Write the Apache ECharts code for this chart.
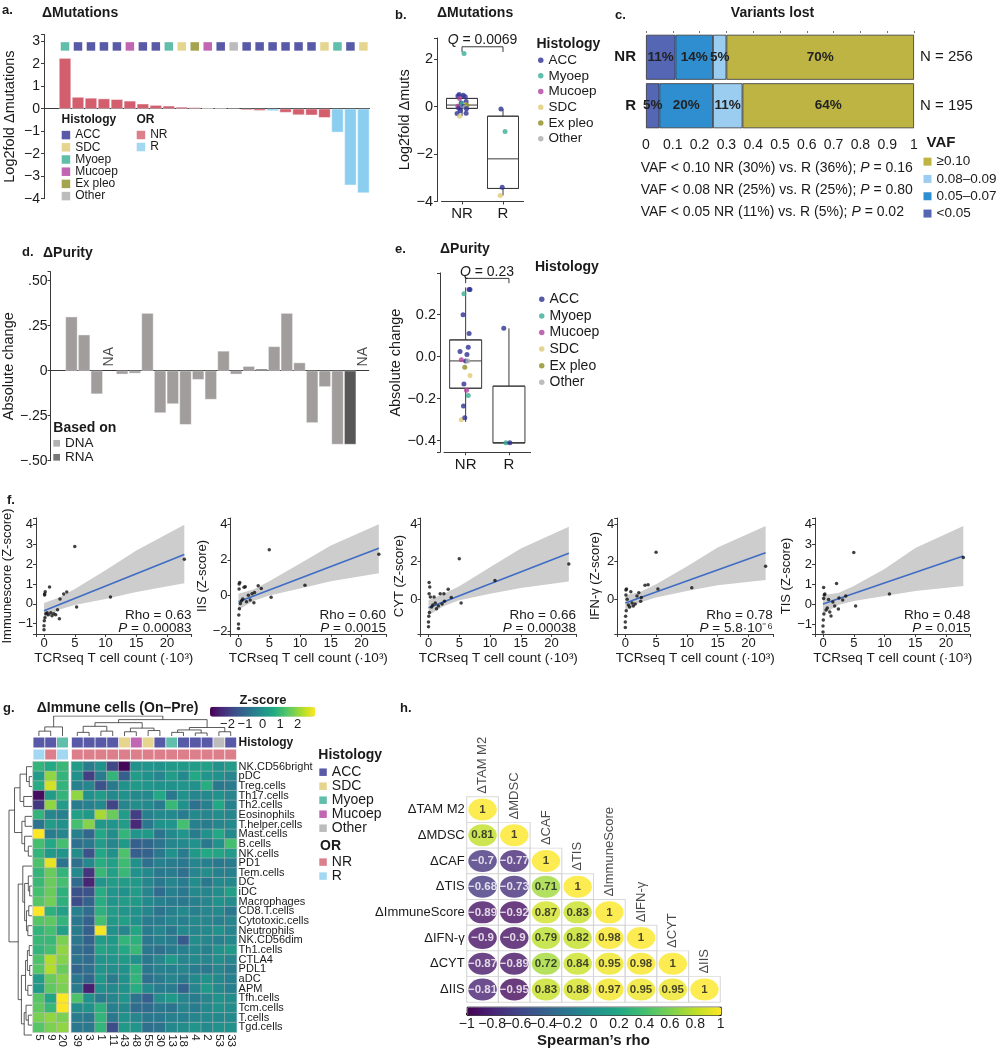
<!DOCTYPE html>
<html>
<head>
<meta charset="utf-8">
<script src="https://cdn.jsdelivr.net/npm/echarts@6/dist/echarts.min.js"></script>
<style>
html,body{margin:0;padding:0;background:#ffffff;}
#chart{width:996px;height:1050px;}
</style>
</head>
<body>
<div id="chart"></div>
<script>
// ================= DATA =================
// Panels a, b, d, e : one entry per patient (same order in all four panels)
const sampleHistology = ['Myoep','ACC','ACC','ACC','ACC','Mucoep','ACC','ACC','Myoep','SDC','Ex pleo','Mucoep','ACC','Other','ACC','ACC','ACC','ACC','ACC','ACC','SDC','Myoep','ACC','SDC'];
const sampleResponse  = ['NR','NR','NR','NR','NR','NR','NR','NR','NR','NR','NR','NR','NR','NR','NR','NR','R','NR','NR','NR','NR','R','R','R'];
const mutLog2         = [2.25,0.52,0.48,0.45,0.42,0.35,0.22,0.16,0.13,0.08,0.06,0.02,0.01,-0.02,-0.06,-0.09,-0.10,-0.17,-0.28,-0.29,-0.40,-1.05,-3.40,-3.75];
const jitterB         = [0.05,-0.07,0.03,-0.10,0.08,-0.06,0.10,-0.02,0.00,0.09,0.12,-0.10,0.04,0.07,-0.08,0.11,-0.05,-0.04,0.10,-0.12,-0.06,0.05,-0.02,-0.07];
const purityChange    = [0.30,0.20,-0.13,null,-0.02,-0.015,0.32,-0.235,-0.185,-0.30,-0.05,-0.16,0.11,-0.02,0.025,0.01,0.135,0.32,0.045,-0.29,-0.09,-0.41,-0.41,null];
const purityBasis     = ['DNA','DNA','DNA','DNA','DNA','DNA','DNA','DNA','DNA','DNA','DNA','DNA','DNA','DNA','DNA','RNA','DNA','DNA','DNA','DNA','DNA','DNA','RNA','DNA'];
const jitterE         = [-0.04,-0.06,-0.04,0,0.00,-0.10,0.08,-0.05,0.06,-0.10,-0.02,0.02,0.08,0.05,-0.13,0.03,-0.12,0.10,0.06,-0.02,0.10,-0.07,0.02,0];
const responseGroups  = ['NR','R'];
const boxB_NR = [-0.40,-0.07,0.07,0.35,0.52];   // min, Q1, median, Q3, max
const boxB_R  = [-3.75,-3.45,-2.20,-0.40,-0.10];
const boxE_NR = [-0.31,-0.15,-0.02,0.08,0.33];
const boxE_R  = [-0.41,-0.41,-0.41,-0.14,0.135];
const qValueB = '0.0069';
const qValueE = '0.23';

// Panel c
const vafBins   = ['<0.05','0.05\u20130.07','0.08\u20130.09','\u22650.10'];
const vafNR     = [11,14,5,70];
const vafR      = [5,20,11,64];
const vafTotals = ['N = 256','N = 195'];
const vafTests  = [['0.10','30%','36%','0.16'],['0.08','25%','25%','0.80'],['0.05','11%','5%','0.02']];

// Panel f
const tcrCount = [0.0,0.0,0.05,0.1,0.1,0.15,0.2,0.3,0.5,0.7,0.9,1.1,1.3,1.6,1.9,2.2,2.5,2.6,3.2,3.7,5.0,5.3,10.8,22.8];
const immuneZ  = [-1.3,-1.1,-0.85,0.45,0.5,-0.7,0.62,-0.5,-0.45,-0.55,0.85,-0.45,-0.6,-0.5,-0.55,-0.3,-0.75,0.25,0.5,0.6,2.9,-0.15,0.35,2.25];
const iisZ     = [-1.85,-1.6,-1.1,0.64,0.36,-0.74,0.73,-0.45,-0.3,-0.2,0.47,0.49,-0.35,0.02,-0.25,0.1,-0.4,0.17,0.55,0.4,2.57,-0.1,0.58,2.31];
const cytZ     = [-1.45,-1.2,-0.9,0.9,0.3,-0.7,0.65,0.12,-0.4,-0.3,0.12,-0.2,-0.5,-0.35,0.3,-0.25,0.3,-0.1,0.54,0.1,2.15,-0.2,1.0,1.88];
const ifngZ    = [-1.5,-1.2,-0.9,0.5,0.23,-0.6,0.55,0.0,-0.3,-0.4,0.4,-0.2,-0.35,-0.25,0.18,0.35,-0.1,0.1,0.75,0.78,2.5,0.55,0.62,1.76];
const tisZ     = [-1.4,-1.1,-0.8,0.83,0.28,-0.5,0.45,0.5,-0.3,-0.2,0.23,-0.4,-0.6,0.1,-0.1,1.03,-0.25,0.3,0.2,0.4,2.58,-0.1,0.5,2.33];
const fitEndX  = [0, 22.8];
const immuneFit = [-0.35,2.5],  iisFit = [-0.35,2.65],  cytFit = [-0.45,2.45],  ifngFit = [-0.2,2.48],  tisFit = [0.0,2.4];
const bandX    = [0,2.5,5,10,15,22.8];
const immuneLo = [-0.75,-0.28,-0.05,0.25,0.6,1.05],  immuneHi = [0.05,0.33,0.75,1.7,2.7,4.0];
const iisLo    = [-0.8,-0.3,0.0,0.4,0.8,1.25],      iisHi    = [0.1,0.35,0.8,1.8,2.8,4.0];
const cytLo    = [-0.85,-0.35,-0.05,0.3,0.6,0.95],  cytHi    = [-0.05,0.3,0.7,1.7,2.7,3.85];
const ifngLo   = [-0.6,-0.15,0.1,0.45,0.75,1.03],   ifngHi   = [0.2,0.4,0.8,1.75,2.75,3.9];
const tisLo    = [-0.5,-0.05,0.15,0.4,0.65,0.9],    tisHi    = [0.45,0.55,0.9,1.75,2.8,3.9];
const fNames = ['Immunescore (Z-score)','IIS (Z-score)','CYT (Z-score)','IFN-\u03b3 (Z-score)','TIS (Z-score)'];
const fRho   = ['0.63','0.60','0.66','0.78','0.48'];
const fP     = ['0.00083','0.0015','0.00038','5.8\u00b710\u207b\u2076','0.015'];

// Panel g
const heatRows = ['NK.CD56bright','pDC','Treg.cells','Th17.cells','Th2.cells','Eosinophils','T.helper.cells','Mast.cells','B.cells','NK.cells','PD1','Tem.cells','DC','iDC','Macrophages','CD8.T.cells','Cytotoxic.cells','Neutrophils','NK.CD56dim','Th1.cells','CTLA4','PDL1','aDC','APM','Tfh.cells','Tcm.cells','T.cells','Tgd.cells'];
const heatCols = ['5','9','20','39','3','1','11','43','48','55','30','13','18','4','2','53','33'];
const colHistology = ['ACC','ACC','Myoep','ACC','ACC','ACC','ACC','SDC','Mucoep','SDC','ACC','Myoep','ACC','ACC','ACC','Other','ACC'];
const colResponse  = ['R','NR','R','NR','NR','NR','NR','NR','NR','NR','NR','NR','NR','NR','NR','NR','NR'];
const heatVals = [
 [0.9,0.6,1.0, 0.3,-0.5,0.0,-1.7,-2.9,0.0,0.1,0.0,0.2,0.2,0.3,0.4,0.0,0.3],
 [0.3,2.0,0.9, 0.0,-1.9,-0.5,0.9,-1.2,0.3,0.0,-0.3,0.3,-0.2,0.6,0.1,0.0,-0.3],
 [0.7,2.6,0.9, -0.4,-0.3,-1.5,-0.6,0.0,0.2,0.1,0.0,0.0,0.1,0.0,0.7,-0.6,-0.5],
 [-2.8,0.3,0.9, 2.0,0.0,0.3,-0.2,0.0,-0.2,-0.2,0.6,-0.6,0.0,-0.3,-0.2,0.0,-0.3],
 [-2.0,2.0,0.3, -0.5,-0.4,-0.2,-1.8,-0.3,-0.1,-0.2,-0.5,1.0,0.0,-0.8,-0.4,0.6,-0.4],
 [0.9,-0.3,-0.4, 0.4,0.2,2.2,1.6,0.3,-1.9,-0.4,-0.2,-0.2,-0.5,-0.2,-0.3,-0.1,-0.3],
 [-0.7,0.3,0.0, 1.2,1.9,0.2,0.1,0.3,-2.3,-0.6,0.0,0.1,1.2,-0.4,-0.5,-0.3,-0.2],
 [3.0,-0.5,-0.3, -0.4,-1.0,0.6,-0.1,0.9,0.1,0.2,-0.7,-0.2,0.1,-0.5,0.0,0.6,-0.2],
 [1.2,0.6,1.2, -0.8,-0.6,0.3,-0.3,0.2,-1.2,-1.0,-0.7,-0.3,-0.2,0.0,-0.6,0.0,1.2],
 [0.9,0.2,0.1, -0.1,-1.5,0.6,0.0,1.3,-1.2,-1.1,-0.6,0.0,-0.5,0.2,0.6,0.5,0.3],
 [1.3,2.8,-0.7, -0.8,-0.2,0.7,0.4,1.1,0.0,-0.8,-0.4,-0.5,-0.6,-0.3,-0.4,-0.6,-0.5],
 [0.9,1.6,0.9, -0.2,-2.1,1.0,0.4,1.0,0.0,-0.2,-0.6,-0.5,-0.8,-0.3,-0.1,-0.4,-0.4],
 [1.0,1.6,1.2, -0.9,-2.4,0.1,0.3,0.3,0.2,-0.3,-0.6,-0.3,-0.5,-0.1,-0.6,-0.2,-0.2],
 [1.2,1.6,0.8, -1.5,-1.5,0.7,0.1,0.0,0.3,-0.3,-0.9,-0.4,-0.6,-0.2,-0.3,-0.1,0.4],
 [1.4,1.7,0.8, -1.6,-1.1,0.7,0.1,0.3,0.2,-0.2,-0.4,-0.5,-0.6,-0.4,-0.3,0.0,-0.1],
 [3.0,0.8,0.4, -0.4,-0.9,0.8,0.3,0.1,0.0,-0.3,-0.7,-0.4,-0.2,-0.4,-0.3,-0.2,-0.6],
 [1.4,1.5,0.9, -0.6,-1.1,1.2,0.2,0.4,0.0,-0.5,-0.5,-0.3,-0.4,-0.2,-0.3,-0.4,-0.3],
 [0.9,1.2,0.4, -0.5,-1.2,2.9,0.0,-0.3,0.5,-0.5,-0.3,-0.6,-0.2,-0.3,-0.2,0.0,-0.3],
 [1.0,1.0,1.8, -0.6,-1.1,0.3,0.2,0.9,0.8,-0.6,-0.4,-0.5,-1.3,-0.1,-0.3,-0.4,-0.2],
 [0.9,1.2,2.0, -0.8,-1.0,0.5,0.3,0.6,1.0,-0.6,-0.8,-0.5,-0.4,-0.2,-0.4,0.0,0.2],
 [1.3,2.3,1.9, -0.7,-0.9,0.1,0.1,0.2,0.0,-0.6,-0.3,0.2,-0.3,-0.2,-0.3,-0.1,-0.3],
 [1.4,2.3,1.6, -1.0,-0.8,0.1,-0.1,0.0,0.8,-0.6,-0.4,-0.4,-0.3,-0.5,-0.6,-0.3,-0.5],
 [0.3,1.6,1.9, -0.6,-1.0,0.2,-0.5,0.0,0.9,-0.8,-0.5,-0.3,-0.5,-0.2,0.0,-0.2,-0.4],
 [0.2,1.5,1.8, -0.5,-2.5,0.0,-0.2,0.0,0.7,-0.2,-0.5,-0.5,-1.1,-0.3,0.2,-0.2,-0.4],
 [1.4,0.5,3.0, 1.3,0.0,-0.5,-0.3,0.1,-0.7,-1.2,-0.1,0.2,-0.3,-0.5,-0.3,0.0,-0.1],
 [1.5,1.0,3.0, -0.1,0.0,0.8,-0.4,-0.2,-0.9,-0.9,-0.6,-0.7,-0.3,-0.5,-0.2,0.0,-0.1],
 [1.8,2.0,1.8, -0.5,-0.6,0.9,-0.6,0.0,-0.3,-0.6,-0.6,-0.4,-0.4,-0.3,-0.2,-0.2,-0.2],
 [1.4,1.8,2.0, -0.6,-0.6,0.9,-1.6,0.2,0.1,-0.8,-0.7,-0.2,-0.1,0.1,-0.2,0.0,0.0]
];
// dendrograms: [childA, childB, height]; leaves are 0..n-1, merged nodes numbered from n
const colMerges = [[0,1,0.8],[17,2,1.5],[3,4,0.6],[5,6,0.8],[19,20,1.6],[7,8,0.7],[9,10,0.9],[22,23,1.3],[21,24,2.2],[11,12,0.6],[13,14,0.5],[26,27,1.0],[15,16,0.7],[28,29,1.4],[25,30,2.7],[18,31,3.3]];
const rowMerges = [[1,2,0.6],[0,28,1.2],[3,4,1.8],[29,30,2.6],[5,6,1.5],[8,9,0.8],[7,33,1.6],[32,34,2.2],[31,35,3.8],[12,13,0.5],[11,37,0.8],[14,15,0.7],[16,17,0.9],[39,40,1.2],[38,41,1.6],[10,42,2.0],[18,19,0.6],[20,21,0.5],[44,45,1.0],[22,23,0.9],[46,47,1.4],[25,26,0.8],[24,49,1.3],[50,27,1.7],[48,51,2.3],[43,52,3.0],[36,53,5.0]];

// Panel h
const corrVars = ['\u0394TAM M2','\u0394MDSC','\u0394CAF','\u0394TIS','\u0394ImmuneScore','\u0394IFN-\u03b3','\u0394CYT','\u0394IIS'];
const corrRows = [
 [1],
 [0.81,1],
 [-0.7,-0.77,1],
 [-0.68,-0.73,0.71,1],
 [-0.89,-0.92,0.87,0.83,1],
 [-0.9,-0.9,0.79,0.82,0.98,1],
 [-0.87,-0.89,0.72,0.84,0.95,0.98,1],
 [-0.81,-0.95,0.83,0.88,0.97,0.95,0.95,1]
];

// ================= STYLE =================
const FONT = '"Liberation Sans", Arial, Helvetica, sans-serif';
const INK = '#1a1a1a', AXC = '#3a3a3a';
const HIST_COLORS = {'ACC':'#2E3192','SDC':'#DECB72','Myoep':'#38AE95','Mucoep':'#B0409F','Ex pleo':'#8F8D22','Other':'#ABABAB'};
const OR_COLORS = {'NR':'#D35F6E','R':'#8CCEEF'};
const VAF_COLORS = ['#5466B4','#2F8ECF','#9BCDF0','#BDB443'];
const PURITY_COLORS = {'DNA':'#A19D9D','RNA':'#575757'};
const VIRIDIS = ['#440154','#482475','#414487','#355f8d','#2a788e','#21918c','#22a884','#44bf70','#7ad151','#bddf26','#fde725'];
const minus = s => String(s).replace(/-/g,'\u2212');
const isMult = (v, iv) => Math.abs(v/iv - Math.round(v/iv)) < 1e-6;

const grid=[], xAxis=[], yAxis=[], series=[], graphic=[], legend=[], visualMap=[];
const G = o => (grid.push(o), grid.length-1);
const X = o => (xAxis.push(o), xAxis.length-1);
const Y = o => (yAxis.push(o), yAxis.length-1);
const S = o => (series.push(Object.assign({animation:false, silent:true}, o)), series.length-1);
function T(x, y, text, o) {
  const st = Object.assign({text, fill:INK, fontFamily:FONT, fontSize:13, fontWeight:'normal', align:'left', verticalAlign:'middle'}, o||{});
  st.textAlign = st.align; st.textVerticalAlign = st.verticalAlign;
  graphic.push({type:'text', x, y, silent:true, z:100, style:st});
}
const richP = fs => ({i:{fontStyle:'italic', fontSize:fs, fontFamily:FONT, fill:INK, color:INK}});
function axisLine(show){ return {show:show, onZero:false, lineStyle:{color:AXC, width:1}}; }
const tick = {show:true, length:3, lineStyle:{color:AXC}};
const noSplit = {show:false};
function L(o){ legend.push(Object.assign({orient:'vertical', padding:0, itemGap:0, selectedMode:false, icon:'rect', itemStyle:{borderWidth:0}}, o)); }

// ================= PANEL A =================
T(2, 10, 'a.', {fontWeight:'bold', fontSize:13});
T(42, 13, '\u0394Mutations', {fontWeight:'bold', fontSize:14});
const gA = G({left:44, top:34.5, width:325.5, height:164.2});
const xA = X({gridIndex:gA, type:'value', min:-1.62, max:23.47, axisLine:{show:true, onZero:true, lineStyle:{color:AXC}}, axisTick:{show:false}, axisLabel:{show:false}, splitLine:noSplit});
const yA = Y({gridIndex:gA, type:'value', min:-4, max:3.3, interval:1, axisLine:axisLine(true), axisTick:tick,
  axisLabel:{fontSize:14, color:INK, margin:4, formatter:v=>isMult(v,1)?minus(Math.round(v)):''}, splitLine:noSplit,
  name:'Log2fold \u0394mutations', nameLocation:'middle', nameGap:27, nameTextStyle:{fontSize:14.5, color:INK}});
S({type:'bar', xAxisIndex:xA, yAxisIndex:yA, barWidth:12,
  itemStyle:{borderColor:'rgba(255,255,255,0.8)', borderWidth:0.5},
  data: mutLog2.map((v,i)=>({value:[i,v], itemStyle:{color:OR_COLORS[sampleResponse[i]]}}))});
S({type:'scatter', xAxisIndex:xA, yAxisIndex:yA, symbol:'rect', symbolSize:8.5,
  data: sampleHistology.map((h,i)=>({value:[i,2.77], itemStyle:{color:HIST_COLORS[h]}}))});
T(61.5, 119.5, 'Histology', {fontWeight:'bold', fontSize:12});
T(136.5, 119.5, 'OR', {fontWeight:'bold', fontSize:12});
L({left:61.7, top:129, itemWidth:8.5, itemHeight:8.5, textStyle:{fontSize:12, color:INK, fontFamily:FONT, lineHeight:12.2},
  data:['ACC','SDC','Myoep','Mucoep','Ex pleo','Other']});
L({left:136.7, top:129, itemWidth:8.5, itemHeight:8.5, textStyle:{fontSize:12, color:INK, fontFamily:FONT, lineHeight:12},
  data:['NR','R']});

// ================= PANEL B =================
T(395, 15, 'b.', {fontWeight:'bold', fontSize:13});
T(437, 13.3, '\u0394Mutations', {fontWeight:'bold', fontSize:14});
const gB = G({left:441.5, top:38, width:82, height:163.5});
const xBc = X({gridIndex:gB, type:'category', data:responseGroups, axisLine:axisLine(true), axisTick:{show:true, length:3, alignWithLabel:true, lineStyle:{color:AXC}}, axisLabel:{fontSize:15, color:INK, margin:5}});
const xBv = X({gridIndex:gB, type:'value', min:-0.5, max:1.5, show:false, splitLine:noSplit});
const yB = Y({gridIndex:gB, type:'value', min:-4, max:2.9, interval:2, offset:4.5, axisLine:axisLine(true), axisTick:tick,
  axisLabel:{fontSize:14.5, color:INK, margin:4, formatter:v=>isMult(v,2)?minus(Math.round(v)):''}, splitLine:noSplit,
  name:'Log2fold \u0394muts', nameLocation:'middle', nameGap:21, nameTextStyle:{fontSize:14.5, color:INK}});
const boxB = [boxB_NR, boxB_R];
S({type:'boxplot', xAxisIndex:xBc, yAxisIndex:yB, boxWidth:[31,31], itemStyle:{color:'rgba(255,255,255,0)', borderColor:AXC, borderWidth:1},
  data: boxB.map(s=>[s[1],s[1],s[2],s[3],s[3]])});
S({type:'lines', coordinateSystem:'cartesian2d', xAxisIndex:xBv, yAxisIndex:yB, polyline:true, lineStyle:{color:AXC, width:1, opacity:1},
  data: boxB.flatMap((s,k)=>[{coords:[[k,s[3]],[k,s[4]]]},{coords:[[k,s[0]],[k,s[1]]]}])});
S({type:'scatter', xAxisIndex:xBv, yAxisIndex:yB, symbolSize:5, z:5,
  data: mutLog2.map((v,i)=>({value:[responseGroups.indexOf(sampleResponse[i])+jitterB[i], v], itemStyle:{color:HIST_COLORS[sampleHistology[i]]}}))});
S({type:'lines', coordinateSystem:'cartesian2d', xAxisIndex:xBv, yAxisIndex:yB, polyline:true, clip:false, lineStyle:{color:AXC, width:1, opacity:1},
  data:[{coords:[[0,2.31],[0,2.53],[1,2.53],[1,2.31]]}]});
T(482.5, 40, '{i|Q} = ' + qValueB, {align:'center', fontSize:14, rich:richP(14)});
T(536.5, 44.3, 'Histology', {fontWeight:'bold', fontSize:14});
L({left:538, top:52.3, icon:'circle', itemWidth:5.5, itemHeight:5.5, textStyle:{fontSize:13.5, color:INK, fontFamily:FONT, lineHeight:15.7},
  data:['ACC','Myoep','Mucoep','SDC','Ex pleo','Other']});

// ================= PANEL C =================
T(615, 15, 'c.', {fontWeight:'bold', fontSize:13});
T(772.5, 12.7, 'Variants lost', {align:'center', fontWeight:'bold', fontSize:14});
const gC = G({left:646, top:33, width:268, height:97});
const xC = X({gridIndex:gC, type:'value', min:0, max:1, interval:0.1, axisLine:{show:false}, axisTick:{show:false}, axisLabel:{fontSize:14, color:INK, margin:8}, splitLine:noSplit});
const xCt = X({gridIndex:gC, type:'value', position:'top', min:0, max:1, interval:0.1, axisLine:{show:false}, axisTick:{show:true, length:2, lineStyle:{color:'#777'}}, axisLabel:{show:false}, splitLine:noSplit});
const yC = Y({gridIndex:gC, type:'category', data:['NR','R'], inverse:true, axisLine:{show:false}, axisTick:{show:false}, axisLabel:{fontSize:15, fontWeight:'bold', color:INK, margin:10}});
const yCr = Y({gridIndex:gC, type:'category', position:'right', data:vafTotals, inverse:true, axisLine:{show:false}, axisTick:{show:false}, axisLabel:{fontSize:15, color:INK, margin:6}});
vafBins.forEach((b,k)=>{
  S({type:'bar', name:b, xAxisIndex:xC, yAxisIndex:yC, stack:'vaf', barWidth:45,
    itemStyle:{color:VAF_COLORS[k], borderColor:'#333', borderWidth:0.8},
    label:{show:true, position:'inside', fontSize:13.5, fontWeight:'bold', color:'#222', formatter:p=>p.data.pct+'%'},
    data:[{value:vafNR[k]/100, pct:vafNR[k]},{value:vafR[k]/100, pct:vafR[k]}]});
});
S({type:'scatter', xAxisIndex:xCt, yAxisIndex:yC, data:[]});
vafTests.forEach((t,k)=>{
  T(640.7, 168.3+21.7*k, 'VAF < '+t[0]+' NR ('+t[1]+') vs. R ('+t[2]+'); {i|P} = '+t[3], {fontSize:14, rich:richP(14)});
});
T(926.5, 143.3, 'VAF', {fontWeight:'bold', fontSize:15});
L({left:923.5, top:153, itemWidth:8, itemHeight:8, textStyle:{fontSize:13.5, color:INK, fontFamily:FONT, lineHeight:17.3},
  data:vafBins.slice().reverse()});

// ================= PANEL D =================
T(22, 252.3, 'd.', {fontWeight:'bold', fontSize:13});
T(43, 253.3, '\u0394Purity', {fontWeight:'bold', fontSize:14});
const gD = G({left:43, top:271.7, width:325.8, height:189});
const xD = X({gridIndex:gD, type:'value', min:-1.65, max:23.47, axisLine:{show:true, onZero:true, lineStyle:{color:AXC}}, axisTick:{show:false}, axisLabel:{show:false}, splitLine:noSplit});
const fmtD = v => { if (!isMult(v,0.25)) return ''; if (Math.abs(v)<1e-9) return '0'; return (v<0?'\u2212':'') + Math.abs(v).toFixed(2).slice(1); };
const yD = Y({gridIndex:gD, type:'value', min:-0.5, max:0.55, interval:0.25, axisLine:axisLine(true), axisTick:tick,
  axisLabel:{fontSize:14, color:INK, margin:3, formatter:fmtD}, splitLine:noSplit,
  name:'Absolute change', nameLocation:'middle', nameGap:26, nameTextStyle:{fontSize:14.5, color:INK}});
S({type:'bar', xAxisIndex:xD, yAxisIndex:yD, barWidth:12,
  itemStyle:{borderColor:'rgba(255,255,255,0.8)', borderWidth:0.5},
  data: purityChange.map((v,i)=>({value:[i, v===null?'-':v], itemStyle:{color:PURITY_COLORS[purityBasis[i]]}}))});
S({type:'scatter', xAxisIndex:xD, yAxisIndex:yD, symbolSize:0,
  label:{show:true, position:'inside', rotate:90, fontSize:14, color:INK, formatter:'NA'},
  data: purityChange.map((v,i)=>v===null?[i,0.078]:null).filter(d=>d)});
T(53.3, 428.3, 'Based on', {fontWeight:'bold', fontSize:14});
L({left:53.3, top:436.3, itemWidth:6.7, itemHeight:6.7, textStyle:{fontSize:13.5, color:INK, fontFamily:FONT, lineHeight:12.5},
  data:['DNA','RNA']});

// ================= PANEL E =================
T(395, 249, 'e.', {fontWeight:'bold', fontSize:13});
T(440, 249, '\u0394Purity', {fontWeight:'bold', fontSize:14});
const gE = G({left:444, top:272.9, width:86.6, height:179.4});
const xEc = X({gridIndex:gE, type:'category', data:responseGroups, axisLine:axisLine(true), axisTick:{show:true, length:3, alignWithLabel:true, lineStyle:{color:AXC}}, axisLabel:{fontSize:15, color:INK, margin:5}});
const xEv = X({gridIndex:gE, type:'value', min:-0.5, max:1.5, show:false, splitLine:noSplit});
const yE = Y({gridIndex:gE, type:'value', min:-0.455, max:0.399, splitNumber:4, offset:4, axisLine:axisLine(true), axisTick:tick,
  axisLabel:{fontSize:14.5, color:INK, margin:4, formatter:v=>isMult(v,0.2)?minus(v.toFixed(1)):''}, splitLine:noSplit,
  name:'Absolute change', nameLocation:'middle', nameGap:31, nameTextStyle:{fontSize:14.5, color:INK}});
const boxE = [boxE_NR, boxE_R];
S({type:'boxplot', xAxisIndex:xEc, yAxisIndex:yE, boxWidth:[32,32], itemStyle:{color:'rgba(255,255,255,0)', borderColor:AXC, borderWidth:1},
  data: boxE.map(s=>[s[1],s[1],s[2],s[3],s[3]])});
S({type:'lines', coordinateSystem:'cartesian2d', xAxisIndex:xEv, yAxisIndex:yE, polyline:true, lineStyle:{color:AXC, width:1, opacity:1},
  data: boxE.flatMap((s,k)=>[{coords:[[k,s[3]],[k,s[4]]]},{coords:[[k,s[0]],[k,s[1]]]}])});
S({type:'scatter', xAxisIndex:xEv, yAxisIndex:yE, symbolSize:5, z:5,
  data: purityChange.map((v,i)=>v===null?null:({value:[responseGroups.indexOf(sampleResponse[i])+jitterE[i], v], itemStyle:{color:HIST_COLORS[sampleHistology[i]]}})).filter(d=>d)});
S({type:'lines', coordinateSystem:'cartesian2d', xAxisIndex:xEv, yAxisIndex:yE, polyline:true, clip:false, lineStyle:{color:AXC, width:1, opacity:1},
  data:[{coords:[[0,0.35],[0,0.373],[1,0.373],[1,0.35]]}]});
T(487, 272, '{i|Q} = ' + qValueE, {align:'center', fontSize:14, rich:richP(14)});
T(535, 266.7, 'Histology', {fontWeight:'bold', fontSize:14});
L({left:539, top:291, icon:'circle', itemWidth:5.5, itemHeight:5.5, textStyle:{fontSize:14, color:INK, fontFamily:FONT, lineHeight:16.6},
  data:['ACC','Myoep','Mucoep','SDC','Ex pleo','Other']});

// ================= PANEL F =================
T(7, 500, 'f.', {fontWeight:'bold', fontSize:13});
const fPlots = [
  {z:immuneZ, fit:immuneFit, lo:immuneLo, hi:immuneHi, left:36,    yMin:-1.52, yMax:4.34, iv:1, gap:17},
  {z:iisZ,    fit:iisFit,    lo:iisLo,    hi:iisHi,    left:230.5, yMin:-2.16, yMax:4.35, iv:2, gap:11.5},
  {z:cytZ,    fit:cytFit,    lo:cytLo,    hi:cytHi,    left:420.5, yMin:-1.84, yMax:4.32, iv:2, gap:8},
  {z:ifngZ,   fit:ifngFit,   lo:ifngLo,   hi:ifngHi,   left:617.3, yMin:-1.84, yMax:4.32, iv:2, gap:15.5},
  {z:tisZ,    fit:tisFit,    lo:tisLo,    hi:tisHi,    left:815,   yMin:-1.5,  yMax:4.3,  iv:1, gap:13.5}
];
fPlots.forEach((p,k)=>{
  const g = G({left:p.left, top:518, width:155.7, height:116});
  const xi = X({gridIndex:g, type:'value', min:-1.3, max:24, splitNumber:5, axisLine:axisLine(true), axisTick:tick,
    axisLabel:{fontSize:13, color:INK, margin:3, formatter:v=>isMult(v,5)?String(Math.round(v)):''}, splitLine:noSplit,
    name:'TCRseq T cell count (\u00b710\u00b3)', nameLocation:'middle', nameGap:17, nameTextStyle:{fontSize:13.5, color:INK}});
  const yi = Y({gridIndex:g, type:'value', min:p.yMin, max:p.yMax, splitNumber:Math.round((p.yMax-p.yMin)/p.iv/1.1), axisLine:axisLine(true), axisTick:tick,
    axisLabel:{fontSize:13, color:INK, margin:3, formatter:v=>isMult(v,p.iv)?minus(Math.round(v)):''}, splitLine:noSplit,
    name:fNames[k], nameLocation:'middle', nameGap:p.gap, nameTextStyle:{fontSize:13, color:INK}});
  // 95% confidence band of the fit
  S({type:'custom', coordinateSystem:'cartesian2d', xAxisIndex:xi, yAxisIndex:yi, data:[[bandX[0], p.lo[0]]], encode:{x:0, y:1}, z:1,
    renderItem:(params, api)=>{
      const up = bandX.map((x,j)=>api.coord([x, p.hi[j]]));
      const dn = bandX.map((x,j)=>api.coord([x, p.lo[j]])).reverse();
      return {type:'polygon', shape:{points:up.concat(dn)}, style:{fill:'#cdcdcd', stroke:null}};
    }});
  S({type:'line', xAxisIndex:xi, yAxisIndex:yi, symbol:'none', z:3, lineStyle:{color:'#3F6CC4', width:1.6},
    data: fitEndX.map((x,j)=>[x, p.fit[j]])});
  S({type:'scatter', xAxisIndex:xi, yAxisIndex:yi, symbolSize:3.5, itemStyle:{color:'#111'}, z:5,
    data: tcrCount.map((x,j)=>[x, p.z[j]])});
  T(p.left+155.5, 615.7, 'Rho = '+fRho[k], {align:'right', fontSize:13.5});
  T(p.left+155.5, 628.3, '{i|P} = '+fP[k], {align:'right', fontSize:13.5, rich:richP(13.5)});
});

// ================= PANEL G =================
T(3, 708, 'g.', {fontWeight:'bold', fontSize:13});
T(36.7, 708, '\u0394Immune cells (On\u2013Pre)', {fontWeight:'bold', fontSize:14});
const CW = 11.8, GAPU = 0.254, HX = 33, HTOP = 761.7, HH = 278.3;
const nLeft = 3;
const leafX = i => i + 0.5 + (i >= nLeft ? GAPU : 0);
function dendro(n, merges, pos) {
  const p=[], h=[], segs=[];
  for (let i=0;i<n;i++){ p[i]=pos(i); h[i]=0; }
  merges.forEach((m,k)=>{ const id=n+k; p[id]=(p[m[0]]+p[m[1]])/2; h[id]=m[2];
    segs.push([[p[m[0]],h[m[0]]],[p[m[0]],m[2]],[p[m[1]],m[2]],[p[m[1]],h[m[1]]]]); });
  return segs;
}
const hmL = G({left:HX, top:HTOP, width:nLeft*CW, height:HH});
const hmR = G({left:HX+(nLeft+GAPU)*CW, top:HTOP, width:(heatCols.length-nLeft)*CW, height:HH});
const colAxis = (g, cols) => X({gridIndex:g, type:'category', data:cols, axisLine:{show:false}, axisTick:{show:false}, axisLabel:{rotate:-90, fontSize:11.5, color:INK, margin:2, interval:0}});
const xHL = colAxis(hmL, heatCols.slice(0,nLeft));
const xHR = colAxis(hmR, heatCols.slice(nLeft));
const yHL = Y({gridIndex:hmL, type:'category', data:heatRows, inverse:true, show:false});
const yHR = Y({gridIndex:hmR, type:'category', data:heatRows, inverse:true, position:'right', axisLine:{show:false}, axisTick:{show:false}, axisLabel:{fontSize:11, color:INK, margin:2, interval:0}});
const heatStyle = {borderColor:'#bdbdbd', borderWidth:0.5};
const sHL = S({type:'heatmap', xAxisIndex:xHL, yAxisIndex:yHL, itemStyle:heatStyle,
  data: heatVals.flatMap((row,r)=>row.slice(0,nLeft).map((v,c)=>[c,r,v]))});
const sHR = S({type:'heatmap', xAxisIndex:xHR, yAxisIndex:yHR, itemStyle:heatStyle,
  data: heatVals.flatMap((row,r)=>row.slice(nLeft).map((v,c)=>[c,r,v]))});
const annRows = ['Histology','OR'];
const anL = G({left:HX, top:736.5, width:nLeft*CW, height:24});
const anR = G({left:HX+(nLeft+GAPU)*CW, top:736.5, width:(heatCols.length-nLeft)*CW, height:24});
const xAL = X({gridIndex:anL, type:'category', data:heatCols.slice(0,nLeft), show:false});
const xAR = X({gridIndex:anR, type:'category', data:heatCols.slice(nLeft), show:false});
const yAL = Y({gridIndex:anL, type:'category', data:annRows, inverse:true, show:false});
const yAR = Y({gridIndex:anR, type:'category', data:annRows, inverse:true, position:'right', axisLine:{show:false}, axisTick:{show:false}, axisLabel:{fontSize:12, fontWeight:'bold', color:INK, margin:2}});
[[xAL,yAL,0,nLeft],[xAR,yAR,nLeft,heatCols.length]].forEach(([xa,ya,a,b])=>{
  const d=[];
  for (let c=a;c<b;c++){
    d.push({value:[c-a,0], itemStyle:{color:HIST_COLORS[colHistology[c]]}});
    d.push({value:[c-a,1], itemStyle:{color:OR_COLORS[colResponse[c]]}});
  }
  S({type:'scatter', xAxisIndex:xa, yAxisIndex:ya, symbol:'rect', symbolSize:[11,10], data:d});
});
const gCD = G({left:HX, top:716, width:(heatCols.length+GAPU)*CW, height:20});
const xCD = X({gridIndex:gCD, type:'value', min:0, max:heatCols.length+GAPU, show:false, splitLine:noSplit});
const yCD = Y({gridIndex:gCD, type:'value', min:0, max:3.3, show:false, splitLine:noSplit});
S({type:'lines', coordinateSystem:'cartesian2d', xAxisIndex:xCD, yAxisIndex:yCD, polyline:true, lineStyle:{color:'#333', width:0.8, opacity:1},
  data: dendro(heatCols.length, colMerges, leafX).map(c=>({coords:c}))});
const gRD = G({left:9, top:HTOP, width:23, height:HH});
const xRD = X({gridIndex:gRD, type:'value', min:0, max:5.0, inverse:true, show:false, splitLine:noSplit});
const yRD = Y({gridIndex:gRD, type:'value', min:0, max:heatRows.length, inverse:true, show:false, splitLine:noSplit});
S({type:'lines', coordinateSystem:'cartesian2d', xAxisIndex:xRD, yAxisIndex:yRD, polyline:true, lineStyle:{color:'#333', width:0.8, opacity:1},
  data: dendro(heatRows.length, rowMerges, i=>i+0.5).map(c=>({coords:c.map(([p,h])=>[h,p])}))});
visualMap.push({type:'continuous', seriesIndex:[sHL,sHR], min:-3, max:3, inRange:{color:VIRIDIS}, orient:'horizontal',
  left:210, top:706.7, itemWidth:10, itemHeight:105, calculable:false, hoverLink:false, padding:0, show:true});
const gZB = G({left:210, top:706.7, width:105, height:10});
const xZB = X({gridIndex:gZB, type:'value', min:-3, max:3, interval:1, axisLine:{show:false}, axisTick:{show:false},
  axisLabel:{fontSize:13, color:INK, margin:1.5, formatter:v=>(Math.abs(v)>2.5)?'':minus(v)}, splitLine:noSplit});
const yZB = Y({gridIndex:gZB, type:'value', show:false, splitLine:noSplit});
S({type:'scatter', xAxisIndex:xZB, yAxisIndex:yZB, data:[]});
T(263, 700, 'Z-score', {align:'center', fontWeight:'bold', fontSize:13});
T(318.3, 755, 'Histology', {fontWeight:'bold', fontSize:14});
L({left:319.3, top:765.2, itemWidth:7.5, itemHeight:7.5, textStyle:{fontSize:14, color:INK, fontFamily:FONT, lineHeight:13.1},
  data:['ACC','SDC','Myoep','Mucoep','Other']});
T(320, 845.7, 'OR', {fontWeight:'bold', fontSize:14});
L({left:319.3, top:855.1, itemWidth:7.5, itemHeight:7.5, textStyle:{fontSize:14, color:INK, fontFamily:FONT, lineHeight:13.3},
  data:['NR','R']});

// ================= PANEL H =================
T(400, 708.3, 'h.', {fontWeight:'bold', fontSize:13});
const gH = G({left:466.7, top:796.7, width:253.6, height:205.6});
const xH = X({gridIndex:gH, type:'category', data:corrVars, show:false});
const yH = Y({gridIndex:gH, type:'category', data:corrVars, inverse:true, axisLine:{show:false}, axisTick:{show:false}, axisLabel:{fontSize:13, color:INK, margin:2}});
const cellData = [], ellData = [];
corrRows.forEach((row,r)=>row.forEach((v,c)=>{
  cellData.push([c,r]);
  ellData.push({value:[c,r,v], label:{color: v<0 ? '#ffffff' : '#1a1a1a'}});
}));
S({type:'scatter', xAxisIndex:xH, yAxisIndex:yH, symbol:'rect', symbolSize:[31.7,25.7], itemStyle:{color:'#ffffff', borderColor:'#cfcfcf', borderWidth:1}, data:cellData});
const sEll = S({type:'scatter', xAxisIndex:xH, yAxisIndex:yH, symbol:'circle', symbolSize:[28.5,22], z:4,
  label:{show:true, position:'inside', fontSize:11.5, fontWeight:'bold', formatter:p=>minus(p.value[2])}, data:ellData});
S({type:'scatter', xAxisIndex:xH, yAxisIndex:yH, symbol:'rect', symbolSize:[31.7,25.7], itemStyle:{color:'rgba(0,0,0,0)'}, z:6,
  label:{show:true, position:'top', distance:3, rotate:90, align:'left', verticalAlign:'middle', fontSize:13, color:INK, formatter:'{b}'},
  data: corrVars.map((n,i)=>({name:n, value:[i,i]}))});
visualMap.push({type:'continuous', seriesIndex:sEll, dimension:2, min:-1, max:1, inRange:{color:VIRIDIS}, orient:'horizontal',
  left:466.7, top:1006.7, itemWidth:8.3, itemHeight:254, calculable:false, hoverLink:false, padding:0, borderColor:'#111', borderWidth:1, show:true});
const gHB = G({left:466.7, top:1006.7, width:254, height:8.3});
const xHB = X({gridIndex:gHB, type:'value', min:-1, max:1, interval:0.2, axisLine:{show:false}, axisTick:{show:true, inside:true, length:2, lineStyle:{color:'#222'}},
  axisLabel:{fontSize:14, color:INK, margin:2, formatter:v=>minus(+v.toFixed(1))}, splitLine:noSplit});
const yHB = Y({gridIndex:gHB, type:'value', show:false, splitLine:noSplit});
S({type:'scatter', xAxisIndex:xHB, yAxisIndex:yHB, data:[]});
T(593.5, 1041, 'Spearman\u2019s rho', {align:'center', fontWeight:'bold', fontSize:15});

// ================= legend-only series =================
Object.keys(HIST_COLORS).forEach(n=>S({type:'scatter', name:n, xAxisIndex:xA, yAxisIndex:yA, data:[], itemStyle:{color:HIST_COLORS[n]}}));
Object.keys(OR_COLORS).forEach(n=>S({type:'scatter', name:n, xAxisIndex:xA, yAxisIndex:yA, data:[], itemStyle:{color:OR_COLORS[n]}}));
Object.keys(PURITY_COLORS).forEach(n=>S({type:'scatter', name:n, xAxisIndex:xD, yAxisIndex:yD, data:[], itemStyle:{color:PURITY_COLORS[n]}}));
legend.forEach(l=>{ l.textStyle = Object.assign({fontFamily:FONT, color:INK}, l.textStyle); });

const chart = echarts.init(document.getElementById('chart'), null, {renderer:'canvas'});
chart.setOption({animation:false, backgroundColor:'#ffffff', textStyle:{fontFamily:FONT},
  grid, xAxis, yAxis, series, graphic, legend, visualMap});
</script>
</body>
</html>
